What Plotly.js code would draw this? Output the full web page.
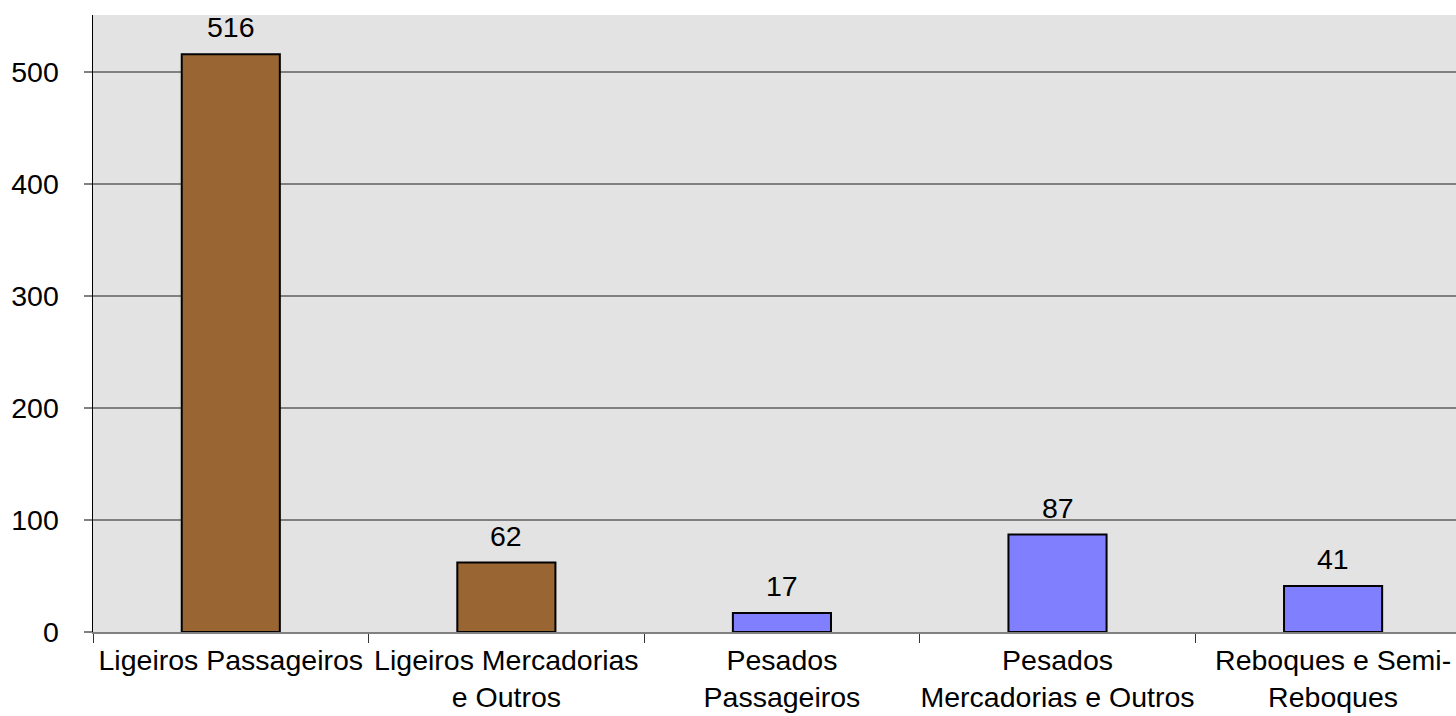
<!DOCTYPE html>
<html>
<head>
<meta charset="utf-8">
<script src="https://cdn.plot.ly/plotly-3.0.1.min.js"></script>
<style>html,body{margin:0;padding:0;background:#fff;}#chart{width:1456px;height:716px;}</style>
</head>
<body>
<div id="chart"></div>
<script>
const categories = ["Ligeiros Passageiros", "Ligeiros Mercadorias<br>e Outros", "Pesados<br>Passageiros", "Pesados<br>Mercadorias e Outros", "Reboques e Semi-<br>Reboques"];
const values = [516, 62, 17, 87, 41];
const barColors = ["#996633", "#996633", "#8080FF", "#8080FF", "#8080FF"];
const yTicks = [0, 100, 200, 300, 400, 500];

const FONT = "Liberation Sans, Arial, sans-serif";
const FS = 28.5;

const trace = {
  type: "bar",
  x: categories,
  y: values,
  width: 0.356,
  marker: { color: barColors, line: { color: "#000000", width: 2 } },
  hoverinfo: "x+y"
};

const annotations = categories.map((c, i) => ({
  x: c, y: values[i], text: String(values[i]),
  xref: "x", yref: "y", showarrow: false,
  yanchor: "bottom", yshift: 9,
  font: { family: FONT, size: FS, color: "#000" }
}));

const layout = {
  width: 1456, height: 716,
  margin: { l: 93, r: 0, t: 15, b: 84 },
  paper_bgcolor: "#ffffff",
  plot_bgcolor: "#E3E3E3",
  showlegend: false,
  bargap: 0.644,
  font: { family: FONT, size: FS, color: "#000" },
  xaxis: {
    type: "category",
    range: [-0.5, 4.446],
    tickson: "boundaries",
    tickangle: 0,
    ticks: "outside", ticklen: 9, tickcolor: "#333", tickwidth: 1,
    showline: true, linecolor: "#808080", linewidth: 2,
    showgrid: false, zeroline: false,
    ticklabelstandoff: 2,
    tickfont: { family: FONT, size: FS, color: "#000" },
    fixedrange: true
  },
  yaxis: {
    range: [0, 551],
    tickvals: yTicks,
    ticktext: yTicks.map(String),
    ticks: "outside", ticklen: 8, tickcolor: "#808080", tickwidth: 2,
    showline: true, linecolor: "#000000", linewidth: 1.5,
    showgrid: true, gridcolor: "#808080", gridwidth: 1.5,
    zeroline: false,
    ticklabelstandoff: 19,
    tickfont: { family: FONT, size: FS, color: "#000" },
    fixedrange: true
  },
  annotations: annotations
};

Plotly.newPlot("chart", [trace], layout, { displayModeBar: false, staticPlot: true });
</script>
</body>
</html>
